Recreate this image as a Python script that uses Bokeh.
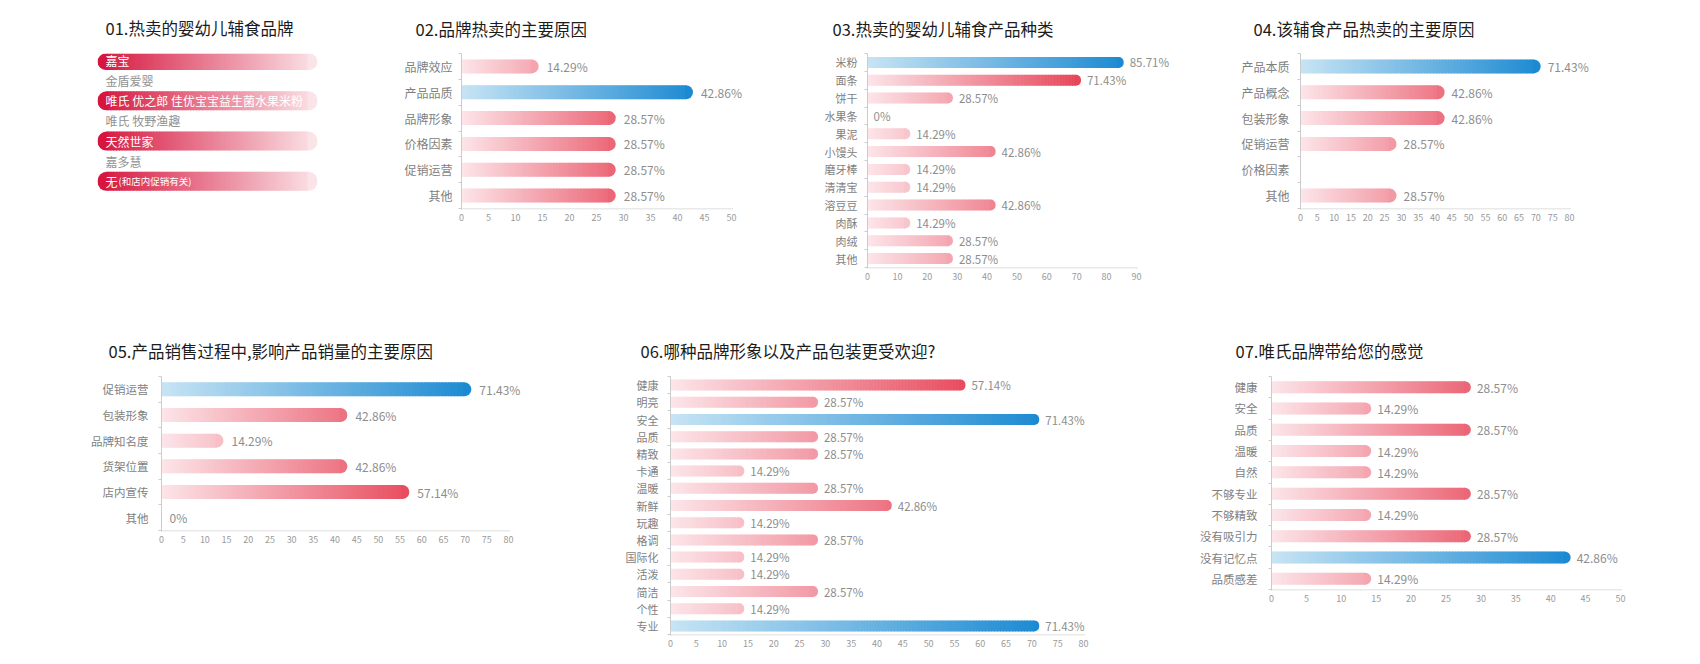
from bokeh.plotting import figure
from bokeh.models import Range1d, FixedTicker, LabelSet, ColumnDataSource
from bokeh.layouts import row, column
from bokeh.embed import file_html
from bokeh.resources import INLINE
from bokeh.core.properties import value

# ---------------- data ----------------
title1 = "01.热卖的婴幼儿辅食品牌"
brands = ["嘉宝", "金盾爱婴", "唯氏 优之郎 佳优宝宝益生菌水果米粉", "唯氏 牧野渔趣", "天然世家", "嘉多慧", "无"]
brand_notes = ["", "", "", "", "", "", "(和店内促销有关)"]
brand_highlight = [True, False, True, False, True, False, True]

title2 = "02.品牌热卖的主要原因"
cats2 = ["品牌效应", "产品品质", "品牌形象", "价格因素", "促销运营", "其他"]
vals2 = [14.29, 42.86, 28.57, 28.57, 28.57, 28.57]
ticks2 = list(range(0, 51, 5))

title3 = "03.热卖的婴幼儿辅食产品种类"
cats3 = ["米粉", "面条", "饼干", "水果条", "果泥", "小馒头", "磨牙棒", "清清宝", "溶豆豆", "肉酥", "肉绒", "其他"]
vals3 = [85.71, 71.43, 28.57, 0, 14.29, 42.86, 14.29, 14.29, 42.86, 14.29, 28.57, 28.57]
ticks3 = list(range(0, 91, 10))

title4 = "04.该辅食产品热卖的主要原因"
cats4 = ["产品本质", "产品概念", "包装形象", "促销运营", "价格因素", "其他"]
vals4 = [71.43, 42.86, 42.86, 28.57, None, 28.57]
ticks4 = list(range(0, 81, 5))

title5 = "05.产品销售过程中,影响产品销量的主要原因"
cats5 = ["促销运营", "包装形象", "品牌知名度", "货架位置", "店内宣传", "其他"]
vals5 = [71.43, 42.86, 14.29, 42.86, 57.14, 0]
ticks5 = list(range(0, 81, 5))

title6 = "06.哪种品牌形象以及产品包装更受欢迎?"
cats6 = ["健康", "明亮", "安全", "品质", "精致", "卡通", "温暖", "新鲜", "玩趣", "格调", "国际化", "活泼", "简洁", "个性", "专业"]
vals6 = [57.14, 28.57, 71.43, 28.57, 28.57, 14.29, 28.57, 42.86, 14.29, 28.57, 14.29, 14.29, 28.57, 14.29, 71.43]
ticks6 = list(range(0, 81, 5))

title7 = "07.唯氏品牌带给您的感觉"
cats7 = ["健康", "安全", "品质", "温暖", "自然", "不够专业", "不够精致", "没有吸引力", "没有记忆点", "品质感差"]
vals7 = [28.57, 14.29, 28.57, 14.29, 14.29, 28.57, 14.29, 28.57, 42.86, 14.29]
ticks7 = list(range(0, 51, 5))

# ---------------- style ----------------
FONT = "Noto Sans CJK SC"
R0, R1 = (252, 229, 233), (227, 38, 60)
B0, B1 = (199, 228, 244), (28, 138, 210)
P0, P1 = (214, 22, 62), (251, 228, 232)
EXTRA = 58  # px of room right of the last tick for value labels


def lerp(c0, c1, t):
    t = max(0.0, min(1.0, t))
    return "#%02x%02x%02x" % tuple(int(round(a + (b - a) * t)) for a, b in zip(c0, c1))


def panel(ox, oy, w, h, fl, fr, ft, fb, xr, yr, title, tx, ty):
    p = figure(width=w, height=h, x_range=xr, y_range=yr, output_backend="svg",
               toolbar_location=None, title=title,
               min_border_left=fl - ox, min_border_right=(ox + w) - fr,
               min_border_top=ft - oy, min_border_bottom=(oy + h) - fb)
    p.outline_line_color = None
    p.grid.visible = False
    p.background_fill_color = "white"
    p.border_fill_color = "white"
    t = p.title
    t.align = "left"
    t.vertical_align = "middle"
    t.offset = tx - fl
    t.text_font = FONT
    t.text_font_size = "16.5px"
    t.text_font_style = "normal"
    t.text_color = "#1c1c1c"
    t.standoff = max(0, 2 * (ft - ty) - 26)
    return p


def bar_chart(ox, oy, w, h, fl, fr, ft, fb, cats, vals, ticks, bar_px, title, tx, ty,
              cat_font, val_font, standoff, val_off):
    n = len(cats)
    xmax = ticks[-1]
    ppu = (fr - fl) / xmax
    upy = (fb - ft) / n
    eps = 1.0 / upy
    p = panel(ox, oy, w, h, fl, fr + EXTRA, ft, fb + 1,
              Range1d(0, xmax + EXTRA / ppu), Range1d(-0.5 - eps, n - 0.5), title, tx, ty)
    ys = [n - 1 - i for i in range(n)]
    hh = bar_px / upy
    r = int(bar_px // 2)
    capw = (r + 1) / ppu
    vmax = max(v for v in vals if v is not None)

    L, Rr, Y, C = [], [], [], []
    cL, cR, cY, cC = [], [], [], []
    for y, v in zip(ys, vals):
        if not v:
            continue
        blue = (v == vmax)
        body = v - capw
        m = max(2, int(body * ppu / 3))
        for k in range(m):
            a = body * k / m
            b = body * (k + 1) / m
            xm = (a + b) / 2
            col = lerp(B0, B1, xm / v) if blue else lerp(R0, R1, xm / vmax)
            L.append(a); Rr.append(b + 0.8 / ppu); Y.append(y); C.append(col)
        cL.append(body); cR.append(v); cY.append(y)
        cC.append(lerp(B0, B1, 1.0) if blue else lerp(R0, R1, v / vmax))
    p.hbar(y=Y, left=L, right=Rr, height=hh, fill_color=C, line_color=None)
    p.hbar(y=cY, left=cL, right=cR, height=hh, fill_color=cC, line_color=None,
           border_radius=(0, r, r, 0))

    # x axis line only as long as the tick range
    p.segment(x0=[0], x1=[xmax + 1.5 / ppu], y0=[-0.5 - eps / 2], y1=[-0.5 - eps / 2],
              line_color="#d2d2d2", line_width=1)

    lab_x = [v if v else 0 for v in vals]
    lab_t = ["" if v is None else ("0%" if v == 0 else "%.2f%%" % v) for v in vals]
    src = ColumnDataSource(dict(x=lab_x, y=ys, t=lab_t))
    p.add_layout(LabelSet(x="x", y="y", text="t", source=src, x_offset=val_off,
                          text_baseline="middle", text_align="left",
                          text_font=value(FONT), text_font_size=val_font, text_color="#8e8e8e"))

    xa = p.xaxis[0]
    xa.ticker = FixedTicker(ticks=ticks)
    xa.axis_line_color = None
    xa.major_tick_line_color = None
    xa.minor_tick_line_color = None
    xa.major_tick_out = 0
    xa.major_tick_in = 0
    xa.major_label_standoff = 4
    xa.major_label_text_font = FONT
    xa.major_label_text_font_size = "9px"
    xa.major_label_text_color = "#9a9a9a"

    ya = p.yaxis[0]
    ya.ticker = FixedTicker(ticks=ys, minor_ticks=[i - 0.5 for i in range(n + 1)])
    ya.major_label_overrides = {y: c for y, c in zip(ys, cats)}
    ya.axis_line_color = "#cccccc"
    ya.major_tick_line_color = None
    ya.major_tick_out = 0
    ya.major_tick_in = 0
    ya.minor_tick_line_color = "#cccccc"
    ya.minor_tick_out = 3
    ya.minor_tick_in = 0
    ya.major_label_standoff = standoff
    ya.major_label_text_font = FONT
    ya.major_label_text_font_size = cat_font
    ya.major_label_text_color = "#7f7f7f"
    return p


# ---------------- chart 01 (brand list) ----------------
def brand_panel(ox, oy, w, h, fl, fr, ft, fb, first_c, step_c):
    n = len(brands)
    hi = (n - 1) + (first_c - ft) / step_c
    lo = hi - (fb - ft) / step_c
    p = panel(ox, oy, w, h, fl, fr, ft, fb, Range1d(0, 1), Range1d(lo, hi), title1, 105, 27)
    p.axis.visible = False
    ys = [n - 1 - i for i in range(n)]
    ppu = fr - fl
    pill_px = 19
    r = pill_px // 2
    hh = pill_px / step_c
    capw = (r + 1) / ppu
    L, Rr, Y, C = [], [], [], []
    lL, lR, lY, lC = [], [], [], []
    rL, rR, rY, rC = [], [], [], []
    for y, hl in zip(ys, brand_highlight):
        if not hl:
            continue
        m = 70
        span = 1 - 2 * capw
        for k in range(m):
            a = capw + span * k / m
            b = capw + span * (k + 1) / m
            L.append(a); Rr.append(b + 0.8 / ppu); Y.append(y); C.append(lerp(P0, P1, (a + b) / 2))
        lL.append(0); lR.append(capw + 0.8 / ppu); lY.append(y); lC.append(lerp(P0, P1, 0))
        rL.append(1 - capw); rR.append(1); rY.append(y); rC.append(lerp(P0, P1, 1))
    p.hbar(y=Y, left=L, right=Rr, height=hh, fill_color=C, line_color=None)
    p.hbar(y=lY, left=lL, right=lR, height=hh, fill_color=lC, line_color=None,
           border_radius=(r, 0, 0, r))
    p.hbar(y=rY, left=rL, right=rR, height=hh, fill_color=rC, line_color=None,
           border_radius=(0, r, r, 0))
    cols = ["#ffffff" if hl else "#929292" for hl in brand_highlight]
    p.text(x=[0] * n, y=ys, text=brands, x_offset=8, text_color=cols,
           text_font=value(FONT), text_font_size="12px", text_baseline="middle", text_align="left")
    p.text(x=[0] * n, y=ys, text=brand_notes, x_offset=21, text_color=cols,
           text_font=value(FONT), text_font_size="9.5px", text_baseline="middle", text_align="left")
    return p


# page coordinates (top-left origin); each row shares top/bottom borders
TOP, BOT = 0, 308
p1 = brand_panel(0, TOP, 400, 308, 97, 317, 53, 268, 60, 20.14)
p2 = bar_chart(400, TOP, 400, 249, 461, 731, 53, 208, cats2, vals2, ticks2, 14, title2, 415, 28,
               "12px", "12px", 6, 8)
p3 = bar_chart(800, TOP, 400, 308, 867, 1136, 53, 267, cats3, vals3, ticks3, 11, title3, 832, 28,
               "11px", "11.5px", 7, 6)
p4 = bar_chart(1200, TOP, 492, 249, 1300, 1569, 53, 208, cats4, vals4, ticks4, 14, title4, 1253, 28,
               "12px", "12px", 8, 7)
p5 = bar_chart(0, BOT, 580, 243, 161, 508, 376, 530, cats5, vals5, ticks5, 14, title5, 108, 350,
               "11.5px", "12px", 10, 8)
p6 = bar_chart(580, BOT, 570, 347, 670, 1083, 376, 634, cats6, vals6, ticks6, 11, title6, 640, 350,
               "11px", "11.5px", 9, 6)
p7 = bar_chart(1150, BOT, 542, 302, 1271, 1620, 376, 589, cats7, vals7, ticks7, 12, title7, 1235, 350,
               "11.5px", "12px", 11, 6)

layout = column(row(p1, p2, p3, p4, spacing=0), row(p5, p6, p7, spacing=0), spacing=0)
open("out.html", "w").write(file_html(layout, INLINE))
